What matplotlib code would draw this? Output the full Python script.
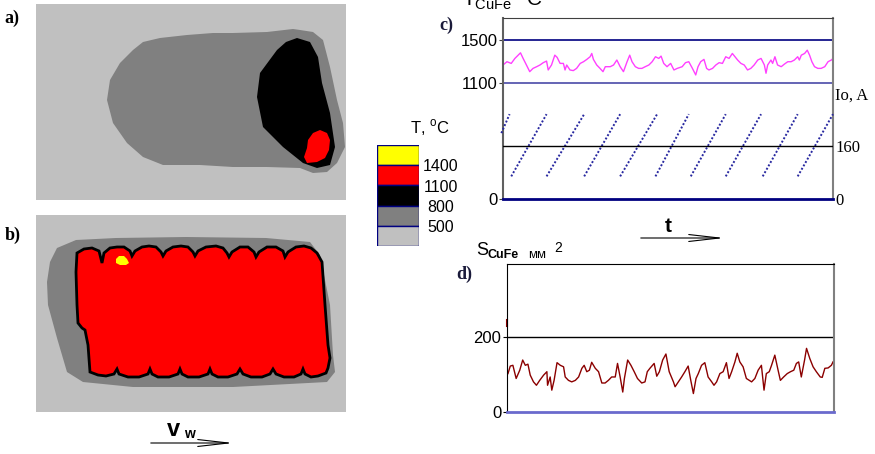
import numpy as np
import matplotlib.pyplot as plt
from matplotlib.patches import Polygon

W, H = 875, 454

# ---- c) weld pool temperature T_CuFe (C) against time (% of record) ----
t_temp = [0.0, 1.2, 2.5, 3.6, 4.6, 5.3, 6.1, 7.1, 8.1, 9.1, 10.2, 11.2, 12.2, 13.2,
          13.7, 14.7, 15.7, 16.4, 17.3, 18.3, 18.8, 19.3, 20.3, 21.3, 22.3, 23.4,
          24.4, 25.4, 26.4, 26.9, 27.4, 28.4, 29.4, 30.3, 31.0, 32.5, 33.5, 34.5,
          35.5, 36.5, 37.6, 38.4, 39.1, 40.1, 41.1, 42.1, 43.1, 44.2, 45.2, 46.2,
          47.2, 47.9, 48.7, 49.7, 50.8, 51.8, 52.8, 54.3, 55.3, 56.3, 57.4, 58.4,
          59.1, 59.9, 60.9, 61.7, 62.4, 63.5, 64.5, 65.5, 66.5, 67.5, 68.5, 69.5,
          70.3, 71.1, 72.1, 73.1, 74.1, 75.1, 76.1, 77.2, 78.2, 79.2, 79.7, 80.2,
          81.2, 81.7, 82.4, 83.2, 84.3, 85.3, 86.3, 87.3, 88.3, 89.3, 89.8, 90.4,
          91.4, 92.2, 92.9, 93.6, 94.4, 95.4, 96.4, 97.5, 98.5, 99.5, 100.0]
temp_cufe = [1266, 1297, 1281, 1328, 1359, 1381, 1328, 1266, 1203, 1234, 1250, 1266, 1288, 1303,
             1219, 1266, 1359, 1338, 1281, 1281, 1219, 1266, 1219, 1213, 1234, 1281,
             1297, 1319, 1344, 1375, 1319, 1266, 1234, 1203, 1250, 1250, 1266, 1313,
             1250, 1203, 1297, 1359, 1297, 1250, 1234, 1234, 1250, 1266, 1297, 1344,
             1328, 1350, 1281, 1250, 1281, 1219, 1234, 1250, 1288, 1297, 1234, 1172,
             1250, 1297, 1319, 1234, 1219, 1234, 1266, 1288, 1281, 1344, 1328, 1375,
             1344, 1313, 1281, 1266, 1219, 1234, 1266, 1313, 1328, 1266, 1188, 1266,
             1313, 1281, 1344, 1266, 1250, 1275, 1297, 1297, 1313, 1344, 1313, 1359,
             1375, 1406, 1359, 1297, 1250, 1234, 1234, 1250, 1297, 1313, 1328]

# welding current Io (A): sawtooth ramps
ramp_t_start = [-0.5, 2.5, 13.2, 24.6, 35.5, 46.2, 56.9, 67.5, 78.7, 89.3]
ramp_t_end = [2.0, 13.2, 24.6, 35.5, 46.7, 56.3, 67.5, 78.2, 89.3, 100.0]
ramp_low = [198, 68, 68, 68, 68, 68, 68, 68, 68, 68]
ramp_high = [255, 255, 255, 255, 255, 255, 255, 255, 255, 255]

# ---- d) cross-section area S_CuFe (mm2) ----
t_area = [0.3, 1.0, 1.8, 2.8, 3.9, 4.8, 5.6, 6.4, 7.1, 8.1, 9.0, 10.0, 11.2, 12.2, 12.4,
          13.2, 13.7, 14.4, 15.3, 16.3, 17.3, 17.8, 18.8, 19.8, 20.9, 21.9, 22.9, 23.6,
          24.4, 25.2, 25.9, 27.0, 28.0, 29.0, 30.0, 31.0, 32.0, 33.1, 33.8, 34.6, 35.4,
          35.9, 36.9, 37.9, 38.9, 39.9, 41.2, 42.2, 42.9, 43.7, 45.0, 45.8, 46.6, 47.6,
          48.6, 49.6, 50.9, 51.4, 52.4, 53.4, 54.4, 55.4, 56.2, 57.0, 57.8, 58.5, 59.5,
          60.5, 61.5, 62.6, 63.3, 64.1, 65.1, 66.1, 67.1, 67.9, 68.7, 69.7, 70.4, 71.2,
          72.2, 73.2, 74.1, 74.8, 75.8, 76.8, 77.8, 78.6, 79.3, 80.2, 80.9, 81.9, 82.9,
          83.6, 84.6, 85.7, 86.7, 87.7, 88.5, 89.2, 90.0, 91.0, 91.6, 92.6, 93.6, 94.6,
          95.8, 96.4, 97.2, 98.2, 99.2, 99.7]
area_cufe = [102, 122, 124, 89, 111, 138, 124, 127, 98, 80, 71, 84, 98, 107, 71,
             93, 58, 84, 131, 124, 120, 93, 84, 80, 84, 93, 116, 124,
             107, 111, 132, 116, 107, 77, 77, 84, 93, 93, 129, 93, 53,
             89, 138, 124, 107, 89, 77, 80, 107, 116, 129, 95, 107, 138,
             154, 107, 80, 67, 80, 93, 107, 122, 84, 49, 89, 102, 124,
             131, 93, 80, 71, 80, 102, 107, 131, 89, 107, 133, 156, 133,
             120, 89, 84, 80, 89, 111, 124, 58, 102, 107, 124, 151, 111,
             84, 93, 102, 107, 111, 129, 133, 93, 138, 169, 142, 120, 107,
             93, 92, 116, 117, 124, 133]

# ---- a), b) temperature fields (outline points, plate coords) ----
iso_800_a = [(71, 96), (74, 76), (84, 59), (97, 46), (107, 38), (124, 34), (151, 31), (177, 29),
             (197, 29), (231, 28), (257, 25), (264, 26), (277, 28), (287, 36), (294, 63),
             (301, 96), (307, 119), (309, 143), (301, 159), (291, 168), (277, 169), (264, 164),
             (231, 163), (197, 163), (164, 161), (127, 161), (107, 153), (91, 139), (77, 119)]
iso_1100_a = [(261, 34), (274, 38), (282, 53), (286, 79), (294, 109), (299, 143), (294, 161),
              (281, 164), (267, 159), (247, 143), (227, 123), (221, 93), (224, 69), (241, 46),
              (250, 38)]
iso_1400_a = [(277, 129), (284, 126), (291, 129), (294, 136), (293, 146), (289, 154), (281, 158),
              (271, 159), (268, 153), (271, 144), (272, 136)]

iso_800_b = [(21, 33), (40, 25), (80, 23), (150, 22), (230, 23), (274, 27), (284, 40), (294, 90),
             (297, 140), (299, 157), (291, 167), (197, 172), (97, 172), (47, 167), (31, 157),
             (21, 123), (12, 90), (11, 67), (14, 47)]
iso_1100_b = [(41, 38), (48, 34), (56, 33), (63, 36), (66, 48), (68, 38), (74, 33), (81, 32), (88, 32),
              (94, 36), (96, 41), (99, 36), (106, 32), (113, 31), (120, 32), (125, 37), (127, 41),
              (130, 36), (137, 32), (145, 31), (152, 32), (157, 37), (159, 41), (162, 36), (170, 32),
              (180, 31), (187, 33), (191, 38), (193, 42), (196, 37), (204, 32), (212, 32), (218, 37),
              (220, 42), (223, 37), (231, 32), (240, 32), (247, 36), (249, 42), (252, 37), (260, 32),
              (268, 31), (275, 33), (281, 38), (286, 47), (289, 90), (292, 130), (294, 143),
              (292, 153), (290, 158), (282, 161), (275, 162), (269, 159), (267, 154), (265, 159),
              (258, 162), (248, 162), (240, 159), (237, 154), (234, 159), (226, 162), (215, 162),
              (207, 159), (204, 154), (201, 159), (192, 162), (182, 162), (176, 159), (174, 154),
              (172, 159), (163, 162), (152, 162), (146, 159), (144, 154), (142, 159), (133, 162),
              (122, 162), (116, 159), (114, 154), (112, 159), (103, 162), (92, 162), (83, 159),
              (81, 154), (78, 159), (70, 161), (62, 160), (54, 157), (52, 130), (49, 115),
              (46, 113), (42, 108), (41, 90), (40, 57)]
iso_1400_b = [(80, 44), (83, 41), (88, 41), (91, 44), (93, 48), (90, 50), (84, 50), (80, 48)]

legend_colors = ['#ffff00', '#ff0000', '#000000', '#808080', '#c0c0c0']
legend_labels = ['1400', '1100', '800', '500']

plt.rcParams['font.family'] = 'Liberation Sans'
fig = plt.figure(figsize=(W / 100, H / 100), dpi=100)


def px_axes(x0, y0, x1, y1):
    return fig.add_axes([x0 / W, 1 - y1 / H, (x1 - x0) / W, (y1 - y0) / H])


def field(ax, w, h):
    ax.set_xlim(0, w)
    ax.set_ylim(h, 0)
    ax.set_xticks([])
    ax.set_yticks([])
    ax.set_facecolor('#c0c0c0')
    for s in ax.spines.values():
        s.set_visible(False)


# a)
axa = px_axes(36, 4, 346, 200)
field(axa, 310, 196)
axa.add_patch(Polygon(iso_800_a, closed=True, fc='#808080', ec='none'))
axa.add_patch(Polygon(iso_1100_a, closed=True, fc='black', ec='none'))
axa.add_patch(Polygon(iso_1400_a, closed=True, fc='#ff0000', ec='none'))

# b)
axb = px_axes(36, 215, 346, 412)
field(axb, 310, 197)
axb.add_patch(Polygon(iso_800_b, closed=True, fc='#808080', ec='none'))
axb.add_patch(Polygon(iso_1100_b, closed=True, fc='#ff0000', ec='black', lw=2))
axb.add_patch(Polygon(iso_1400_b, closed=True, fc='#ffff00', ec='none'))

# colour scale
axl = px_axes(377, 145, 419, 246)
for i, c in enumerate(legend_colors):
    axl.bar(0.5, 1, width=1, bottom=i, color=c, edgecolor='#000080', lw=1)
axl.set_xlim(0, 1)
axl.set_ylim(5, 0)
axl.axis('off')
for i, lab in enumerate(legend_labels):
    axl.text(1.52, i + 1.08, lab, ha='center', va='center', fontsize=11.5, clip_on=False)

# c)
axc = px_axes(503, 18, 833, 199)
axc.plot(t_temp, temp_cufe, color='#ff40ff', lw=1)
axc.axhline(1500, color='#000080', lw=1.2)
axc.axhline(1100, color='#4a4aa8', lw=1.2)
axc.set_xlim(0, 100)
axc.set_ylim(0, 1710)
axc.set_xticks([])
axc.set_yticks([0, 1100, 1500])
axc.tick_params(axis='y', length=3, pad=1, labelsize=12, color='#404040')
axc.spines['top'].set_color('#404040')
axc.spines['left'].set_color('#606060')
axc.spines['left'].set_linewidth(1.5)
axc.spines['right'].set_color('#808080')
axc.spines['right'].set_linewidth(1.5)
axc.spines['bottom'].set_color('#000080')
axc.spines['bottom'].set_linewidth(2)
axi = axc.twinx()
for t0, t1, i0, i1 in zip(ramp_t_start, ramp_t_end, ramp_low, ramp_high):
    axi.plot([t0, t1], [i0, i1], color='#2828a0', lw=1.4, ls=(0, (1, 1)), clip_on=False)
axi.axhline(160, color='black', lw=1)
axi.set_ylim(0, 544)
axi.set_yticks([0, 160])
axi.set_yticklabels(['0', '160'], family='Liberation Serif', fontsize=12)
axi.tick_params(axis='y', length=0, pad=2)
for s in axi.spines.values():
    s.set_visible(False)

# d)
axd = px_axes(507, 264, 834, 412)
axd.plot(t_area, area_cufe, color='#8b0000', lw=1)
axd.plot([0, 0], [229, 243], color='#8b0000', lw=1.5, clip_on=False)
axd.axhline(200, color='black', lw=1)
axd.set_xlim(0, 100)
axd.set_ylim(0, 393)
axd.set_xticks([])
axd.set_yticks([0, 200])
axd.tick_params(axis='y', length=3, pad=1, labelsize=12)
axd.spines['right'].set_color('#808080')
axd.spines['right'].set_linewidth(1.5)
axd.spines['bottom'].set_color('#6a6acd')
axd.spines['bottom'].set_linewidth(2)

# overlay: labels and arrows in pixel coords
ov = fig.add_axes([0, 0, 1, 1])
ov.set_xlim(0, W)
ov.set_ylim(H, 0)
ov.axis('off')
serif = 'Liberation Serif'
ov.text(12, 18, 'a)', family=serif, weight='bold', fontsize=13, ha='center', va='center')
ov.text(13, 235, 'b)', family=serif, weight='bold', fontsize=13, ha='center', va='center')
ov.text(446, 25, 'c)', family=serif, weight='bold', fontsize=13, ha='center', va='center', color='#1a1a3a')
ov.text(464, 274, 'd)', family=serif, weight='bold', fontsize=13, ha='center', va='center', color='#1a1a3a')

ov.text(410, 128, 'T, $^{\\mathregular{o}}$C', fontsize=12, ha='left', va='center')
ov.text(835, 96, 'Io, A', family=serif, fontsize=12, ha='left', va='center')

# title of c), cut off by the top edge as in the source figure
ov.text(462, 6, 'T$_{\\mathregular{CuFe}}$ $^{\\mathregular{o}}$C', fontsize=15,
        va='baseline', clip_on=False)

# title of d)
ov.text(476, 255, 'S', fontsize=13, va='baseline')
ov.text(488, 258, 'CuFe', fontsize=9, weight='bold', va='baseline')
ov.text(528, 258, 'мм', fontsize=9.5, va='baseline')
ov.text(554, 252, '2', fontsize=10, va='baseline')

# time and welding speed arrows
ov.text(668, 227, 't', fontsize=15, weight='bold', ha='center', va='center')
ov.annotate('', xy=(727, 238), xytext=(638, 238),
            arrowprops=dict(arrowstyle='->,head_length=2.2,head_width=0.25', color='black', lw=0.8))
ov.text(167, 429, 'v', fontsize=17, weight='bold', va='center')
ov.text(184, 434, 'w', fontsize=10, weight='bold', va='center')
ov.annotate('', xy=(236, 443), xytext=(148, 443),
            arrowprops=dict(arrowstyle='->,head_length=2.2,head_width=0.25', color='black', lw=0.8))

fig.savefig('out.png', dpi=100)
